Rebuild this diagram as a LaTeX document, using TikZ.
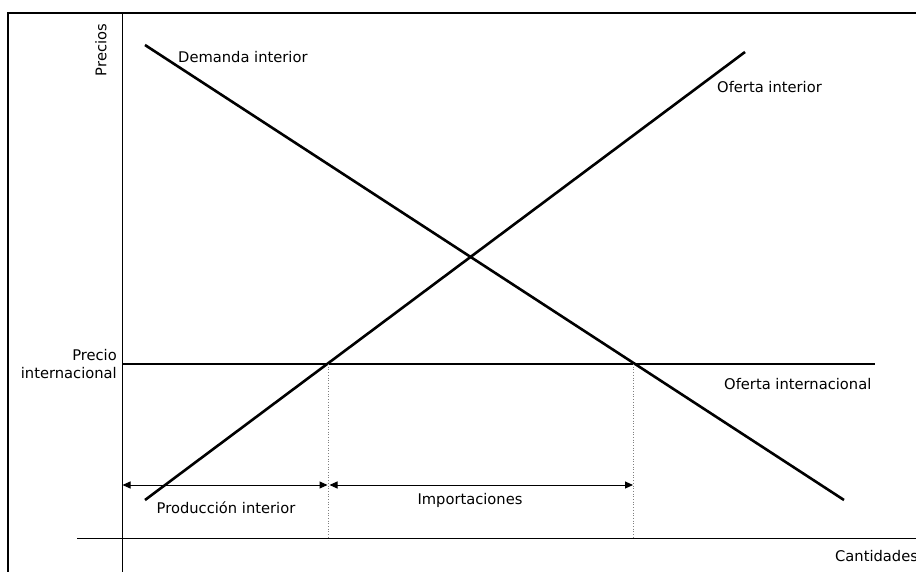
\documentclass[tikz,border=0pt]{standalone}
\usepackage{fontspec}
\setmainfont{DejaVu Sans}
\usetikzlibrary{arrows.meta}
\begin{document}
\begin{tikzpicture}[x=1pt,y=-1pt,
  lbl/.style={inner sep=0pt,font=\fontsize{14.7}{18}\selectfont},
  curve/.style={line width=2.6pt},
  axis/.style={line width=0.9pt},
  guide/.style={gray,line width=0.7pt,dotted},
  span/.style={line width=1pt,{Triangle[length=8pt,width=7pt]}-{Triangle[length=8pt,width=7pt]}}]
\useasboundingbox (0,0) rectangle (916,572);
% frame
\draw[line width=1.8pt] (8,572) -- (8,13) -- (916,13);
% axes
\coordinate (ytop) at (122,13);
\coordinate (ybot) at (122,572);
\coordinate (xl) at (77,538);
\coordinate (xr) at (916,538);
\draw[axis] (ytop) -- (ybot);
\draw[axis] (xl) -- (xr);
% curves
\coordinate (d1) at (145,45);
\coordinate (d2) at (844,500);
\coordinate (s1) at (145,500);
\coordinate (s2) at (745,52);
\draw[curve] (d1) -- (d2);
\draw[curve] (s1) -- (s2);
% world price
\coordinate (p1) at (122,364);
\coordinate (p2) at (875,364);
\draw[curve] (p1) -- (p2);
% guides
\coordinate (g1t) at (328.5,364);
\coordinate (g1b) at (328.5,538);
\coordinate (g2t) at (633.5,364);
\coordinate (g2b) at (633.5,538);
\draw[guide] (g1t) -- (g1b);
\draw[guide] (g2t) -- (g2b);
% spans
\coordinate (a0) at (122.5,485);
\coordinate (a1) at (327.5,485);
\coordinate (a2) at (329.5,485);
\coordinate (a3) at (633,485);
\draw[span] (a0) -- (a1);
\draw[span] (a2) -- (a3);
% labels
\node[lbl,anchor=west] (ld) at (178,57) {Demanda interior};
\node[lbl,anchor=west] (lo) at (717,87) {Oferta interior};
\node[lbl,anchor=west] (loi) at (724,384) {Oferta internacional};
\node[lbl] (lp) at (226,508) {Producción interior};
\node[lbl] (li) at (470,500) {Importaciones};
\node[lbl,anchor=east,align=right] (lpi) at (117,364) {Precio\\internacional};
\node[lbl,anchor=west] (lc) at (835,556) {Cantidades};
\node[lbl,rotate=90] (lpr) at (101,50) {Precios};
\end{tikzpicture}
\end{document}
